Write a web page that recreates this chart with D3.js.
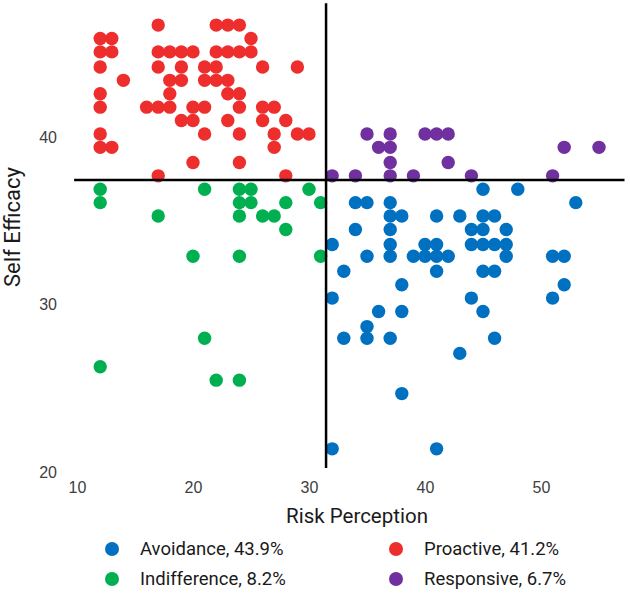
<!DOCTYPE html>
<html>
<head>
<meta charset="utf-8">
<script src="https://d3js.org/d3.v7.min.js"></script>
<style>
  body { margin: 0; background: #fff; }
  svg { font-family: Roboto, "Liberation Sans", sans-serif; }
  .tick text { fill: #404040; font-size: 16px; }
  .axis-title { fill: #1a1a1a; font-size: 20.5px; }
  .y-title { font-size: 22px; }
  .legend text { fill: #1a1a1a; font-size: 18.5px; }
</style>
</head>
<body>
<script>

// risk perception (x) / self efficacy (y) per group
var proactive = [
  [17,46.7],[22,46.7],[23,46.7],[24,46.7],
  [12,45.9],[13,45.9],[25,45.9],
  [12,45.1],[13,45.1],[17,45.1],[18,45.1],[19,45.1],[20,45.1],[22,45.1],[23,45.1],[24,45.1],[25,45.1],
  [12,44.2],[17,44.2],[19,44.2],[21,44.2],[22,44.2],[26,44.2],[29,44.2],
  [14,43.4],[18,43.4],[19,43.4],[21,43.4],[22,43.4],[23,43.4],
  [12,42.6],[18,42.6],[23,42.6],[24,42.6],
  [12,41.8],[16,41.8],[17,41.8],[18,41.8],[20,41.8],[21,41.8],[24,41.8],[26,41.8],[27,41.8],
  [19,41.0],[20,41.0],[23,41.0],[26,41.0],[28,41.0],
  [12,40.2],[21,40.2],[24,40.2],[27,40.2],[29,40.2],[30,40.2],
  [12,39.4],[13,39.4],[27,39.4],
  [20,38.5],[24,38.5],
  [17,37.7],[28,37.7]
];

var indifference = [
  [12,36.9],[21,36.9],[24,36.9],[25,36.9],[30,36.9],
  [12,36.1],[24,36.1],[25,36.1],[28,36.1],[31,36.1],
  [17,35.3],[24,35.3],[26,35.3],[27,35.3],
  [28,34.5],
  [20,32.9],[24,32.9],[31,32.9],
  [21,28.0],
  [12,26.3],
  [22,25.5],[24,25.5]
];

var responsive = [
  [35,40.2],[37,40.2],[40,40.2],[41,40.2],[42,40.2],
  [36,39.4],[37,39.4],[52,39.4],[55,39.4],
  [37,38.5],[42,38.5],
  [32,37.7],[34,37.7],[37,37.7],[39,37.7],[44,37.7],[51,37.7]
];

var avoidance = [
  [45,36.9],[48,36.9],
  [34,36.1],[35,36.1],[37,36.1],[53,36.1],
  [37,35.3],[38,35.3],[41,35.3],[43,35.3],[45,35.3],[46,35.3],
  [34,34.5],[37,34.5],[44,34.5],[45,34.5],[47,34.5],
  [32,33.6],[37,33.6],[40,33.6],[41,33.6],[44,33.6],[45,33.6],[46,33.6],[47,33.6],
  [35,32.9],[37,32.9],[39,32.9],[40,32.9],[41,32.9],[42,32.9],[47,32.9],[51,32.9],[52,32.9],
  [33,32.0],[41,32.0],[45,32.0],[46,32.0],
  [38,31.2],[52,31.2],
  [32,30.4],[44,30.4],[51,30.4],
  [36,29.6],[38,29.6],[45,29.6],
  [35,28.7],
  [33,28.0],[35,28.0],[37,28.0],[46,28.0],
  [43,27.1],
  [38,24.7],
  [32,21.4],[41,21.4]
];

var groupNames = ["Avoidance, 43.9%", "Proactive, 41.2%", "Indifference, 8.2%", "Responsive, 6.7%"];
var groupColors = ["#0070C0", "#EE2D2D", "#00B050", "#7030A0"];
var groupData = [avoidance, proactive, indifference, responsive];

var xTicks = [10, 20, 30, 40, 50];
var yTicks = [20, 30, 40];

// where the two dividing lines cross, and how far they run
var crossX = 31.47, crossY = 37.45;
var hLineX = [9.75, 57.2];
var vLineY = [20.25, 48.0];

var width = 630, height = 597;

var svg = d3.select("body").append("svg")
    .attr("width", width)
    .attr("height", height);

var x = d3.scaleLinear().domain([10, 50]).range([77, 541]);
var y = d3.scaleLinear().domain([20, 40]).range([472.3, 137.3]);

// dots
groupData.forEach(function(pts, i) {
  svg.append("g").selectAll("circle")
      .data(pts)
    .enter().append("circle")
      .attr("cx", function(d) { return x(d[0]); })
      .attr("cy", function(d) { return y(d[1]); })
      .attr("r", 6.7)
      .attr("fill", groupColors[i]);
});

// quadrant lines
svg.append("line")
    .attr("x1", x(hLineX[0])).attr("x2", x(hLineX[1]))
    .attr("y1", y(crossY)).attr("y2", y(crossY))
    .attr("stroke", "#000").attr("stroke-width", 2.5);

svg.append("line")
    .attr("x1", x(crossX)).attr("x2", x(crossX))
    .attr("y1", y(vLineY[0])).attr("y2", y(vLineY[1]))
    .attr("stroke", "#000").attr("stroke-width", 2.5);

// axes (labels only)
svg.append("g")
    .attr("class", "x axis")
    .attr("transform", "translate(0,479)")
    .call(d3.axisBottom(x).tickValues(xTicks).tickSize(0).tickPadding(3))
    .call(function(g) { g.select(".domain").remove(); });

svg.append("g")
    .attr("class", "y axis")
    .attr("transform", "translate(60,0)")
    .call(d3.axisLeft(y).tickValues(yTicks).tickSize(0).tickPadding(3))
    .call(function(g) { g.select(".domain").remove(); });

svg.append("text")
    .attr("class", "axis-title")
    .attr("x", 357)
    .attr("y", 523)
    .attr("text-anchor", "middle")
    .text("Risk Perception");

svg.append("text")
    .attr("class", "axis-title y-title")
    .attr("transform", "translate(20,227) rotate(-90)")
    .attr("text-anchor", "middle")
    .text("Self Efficacy");

// legend, two columns
var legendPos = [[112, 549], [396, 549], [112, 579], [396, 579]];

var legend = svg.append("g").attr("class", "legend")
  .selectAll("g")
    .data(groupNames)
  .enter().append("g")
    .attr("transform", function(d, i) { return "translate(" + legendPos[i][0] + "," + legendPos[i][1] + ")"; });

legend.append("circle")
    .attr("r", 7)
    .attr("fill", function(d, i) { return groupColors[i]; });

legend.append("text")
    .attr("x", 28)
    .attr("dy", "0.35em")
    .text(function(d) { return d; });

</script>
</body>
</html>
